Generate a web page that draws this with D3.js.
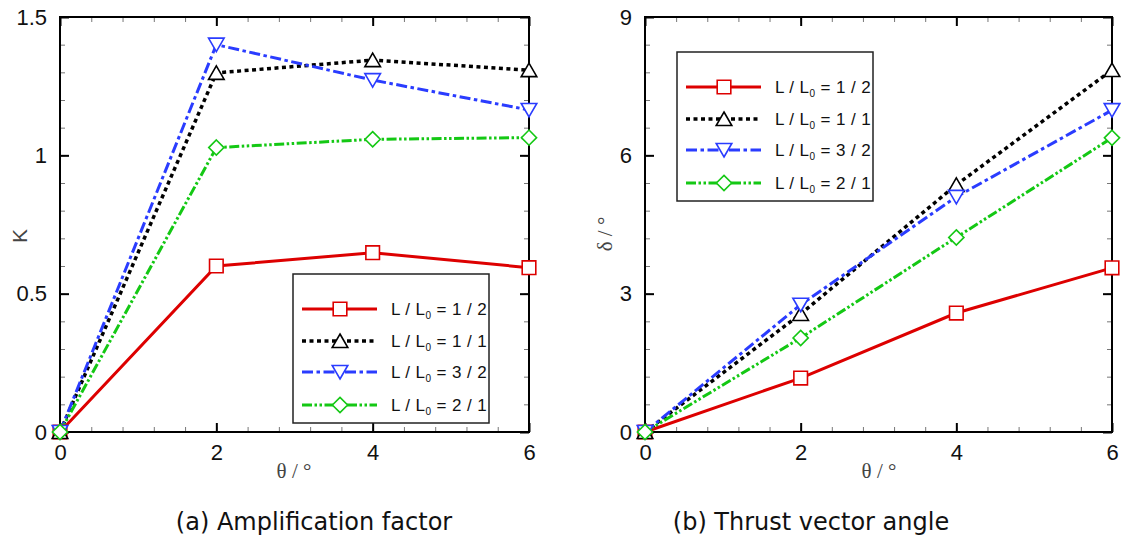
<!DOCTYPE html>
<html>
<head>
<meta charset="utf-8">
<script src="https://cdn.jsdelivr.net/npm/d3@7"></script>
<style>
  body { margin: 0; background: #fff; }
  svg { display: block; }
</style>
</head>
<body>
<div id="chart"></div>
<script>
// data
const theta = [0, 2, 4, 6];
const seriesLabels = ['1 / 2', '1 / 1', '3 / 2', '2 / 1'];

const kHalf = [0, 0.600, 0.648, 0.594];
const kOne = [0, 1.298, 1.344, 1.308];
const kThreeHalf = [0, 1.400, 1.272, 1.164];
const kTwo = [0, 1.028, 1.058, 1.064];

const deltaHalf = [0, 1.17, 2.58, 3.56];
const deltaOne = [0, 2.56, 5.36, 7.85];
const deltaThreeHalf = [0, 2.76, 5.10, 6.98];
const deltaTwo = [0, 2.04, 4.22, 6.38];

const thetaTicks = [0, 2, 4, 6];
const kTicks = [0, 0.5, 1, 1.5];
const deltaTicks = [0, 3, 6, 9];

const styles = [
  {color: '#dd0000', dash: null, marker: 'square', width: 3},
  {color: '#000000', dash: '4,3.5', marker: 'up', width: 3.5},
  {color: '#2a3cff', dash: '11,3.5,3.5,3.5', marker: 'down', width: 3},
  {color: '#14c814', dash: '10,2.5,2.5,2.5,2.5,2.5', marker: 'diamond', width: 3},
];

const W = 1121, H = 541;
const svg = d3.select('#chart').append('svg')
  .attr('width', W).attr('height', H);

function markerPath(kind) {
  const s = 6.8;
  if (kind === 'square') return `M${-s},${-s}H${s}V${s}H${-s}Z`;
  if (kind === 'up') return `M0,${-7}L${7.8},${6.5}L${-7.8},${6.5}Z`;
  if (kind === 'down') return `M0,${7}L${7.8},${-6.5}L${-7.8},${-6.5}Z`;
  return `M0,${-7.6}L${7.6},0L0,${7.6}L${-7.6},0Z`;
}

function drawPanel(opt) {
  const x = d3.scaleLinear().domain([0, 6]).range(opt.xr);
  const y = d3.scaleLinear().domain(opt.ydom).range([432, 17]);
  const g = svg.append('g');

  const minorX = d3.range(0, 6.0001, 0.4);
  const minorY = d3.range(0, opt.ydom[1] + 1e-6, opt.ydom[1] / 15);

  // minor ticks, all four sides, inward
  const minorAxes = [
    [d3.axisBottom(x), `translate(0,${y(0)})`, minorX],
    [d3.axisTop(x), `translate(0,${y(opt.ydom[1])})`, minorX],
    [d3.axisLeft(y), `translate(${x(0)},0)`, minorY],
    [d3.axisRight(y), `translate(${x(6)},0)`, minorY],
  ];
  minorAxes.forEach(([ax, tr, vals]) => {
    const a = g.append('g').attr('transform', tr)
      .call(ax.tickValues(vals).tickSize(-5).tickFormat(''));
    a.select('.domain').remove();
    a.selectAll('line').attr('stroke', '#777').attr('stroke-width', 1);
  });

  // major ticks
  const bottom = g.append('g').attr('transform', `translate(0,${y(0)})`)
    .call(d3.axisBottom(x).tickValues(thetaTicks).tickSize(-9).tickPadding(12).tickFormat(d3.format('d')));
  const top = g.append('g').attr('transform', `translate(0,${y(opt.ydom[1])})`)
    .call(d3.axisTop(x).tickValues(thetaTicks).tickSize(-9).tickFormat(''));
  const left = g.append('g').attr('transform', `translate(${x(0)},0)`)
    .call(d3.axisLeft(y).tickValues(opt.yticks).tickSize(-9).tickPadding(13).tickFormat(opt.yfmt));
  const right = g.append('g').attr('transform', `translate(${x(6)},0)`)
    .call(d3.axisRight(y).tickValues(opt.yticks).tickSize(-9).tickFormat(''));
  [bottom, top, left, right].forEach(a => {
    a.select('.domain').remove();
    a.selectAll('line').attr('stroke', '#000').attr('stroke-width', 2);
    a.selectAll('text').attr('fill', '#111')
      .style('font-family', '"Liberation Sans", Arial, sans-serif').style('font-size', '22px');
  });

  g.append('rect')
    .attr('x', x(0)).attr('y', y(opt.ydom[1]))
    .attr('width', x(6) - x(0)).attr('height', y(0) - y(opt.ydom[1]))
    .attr('fill', 'none').attr('stroke', '#000').attr('stroke-width', 2);

  // series
  const line = d3.line().x((d, i) => x(theta[i])).y(d => y(d));
  opt.series.forEach((vals, si) => {
    const st = styles[si];
    g.append('path').datum(vals)
      .attr('d', line)
      .attr('fill', 'none').attr('stroke', st.color)
      .attr('stroke-width', st.width)
      .attr('stroke-dasharray', st.dash);
  });
  opt.series.forEach((vals, si) => {
    const st = styles[si];
    g.selectAll(null).data(vals).join('path')
      .attr('transform', (d, i) => `translate(${x(theta[i])},${y(d)})`)
      .attr('d', markerPath(st.marker))
      .attr('fill', '#fff').attr('stroke', st.color).attr('stroke-width', 1.6);
  });

  // legend
  const lg = g.append('g');
  lg.append('rect')
    .attr('x', opt.legend[0]).attr('y', opt.legend[1])
    .attr('width', 196).attr('height', 149)
    .attr('fill', '#fff').attr('stroke', '#222').attr('stroke-width', 1.5);
  const rowY = [35, 67, 98, 131];
  seriesLabels.forEach((lab, si) => {
    const st = styles[si];
    const ly = opt.legend[1] + rowY[si];
    const lx = opt.legend[0] + 9;
    lg.append('line')
      .attr('x1', lx).attr('x2', lx + 75).attr('y1', ly).attr('y2', ly)
      .attr('stroke', st.color).attr('stroke-width', st.width)
      .attr('stroke-dasharray', st.dash);
    lg.append('path')
      .attr('transform', `translate(${lx + 38},${ly})`)
      .attr('d', markerPath(st.marker))
      .attr('fill', '#fff').attr('stroke', st.color).attr('stroke-width', 1.6);
    const t = lg.append('text')
      .attr('x', opt.legend[0] + 98).attr('y', ly + 6)
      .style('font-family', '"Liberation Sans", Arial, sans-serif')
      .style('font-size', '17px').style('letter-spacing', '0.4px').attr('fill', '#111');
    t.append('tspan').text('L / L');
    t.append('tspan').text('0').attr('dy', 4).style('font-size', '10px');
    t.append('tspan').text(' = ' + lab).attr('dy', -4);
  });

  // titles
  svg.append('text')
    .attr('x', opt.xtitle).attr('y', 478).attr('text-anchor', 'middle')
    .style('font-family', '"Liberation Serif", "DejaVu Serif", serif')
    .style('font-size', '21px').attr('fill', '#444')
    .text('\u03b8 / \u00b0');
  svg.append('text')
    .attr('transform', `translate(${opt.ytitle[0]},${opt.ytitle[1]}) rotate(-90)`)
    .attr('text-anchor', 'middle')
    .style('font-family', opt.yfont)
    .style('font-size', '21px').attr('fill', '#444')
    .text(opt.ylabel);
  svg.append('text')
    .attr('x', opt.caption).attr('y', 530).attr('text-anchor', 'middle')
    .style('font-family', '"DejaVu Sans", sans-serif')
    .style('font-size', '24px').attr('fill', '#111')
    .text(opt.captionText);
}

drawPanel({
  xr: [60, 529], ydom: [0, 1.5], yticks: kTicks, yfmt: d3.format('~g'),
  series: [kHalf, kOne, kThreeHalf, kTwo],
  legend: [293, 274],
  xtitle: 294, ytitle: [27, 236], ylabel: 'K',
  yfont: '"Liberation Sans", Arial, sans-serif',
  caption: 314, captionText: '(a) Amplification factor',
});

drawPanel({
  xr: [645, 1112], ydom: [0, 9], yticks: deltaTicks, yfmt: d3.format('d'),
  series: [deltaHalf, deltaOne, deltaThreeHalf, deltaTwo],
  legend: [677, 52],
  xtitle: 879, ytitle: [612, 234], ylabel: '\u03b4 / \u00b0',
  yfont: '"Liberation Serif", "DejaVu Serif", serif',
  caption: 811, captionText: '(b) Thrust vector angle',
});
</script>
</body>
</html>
